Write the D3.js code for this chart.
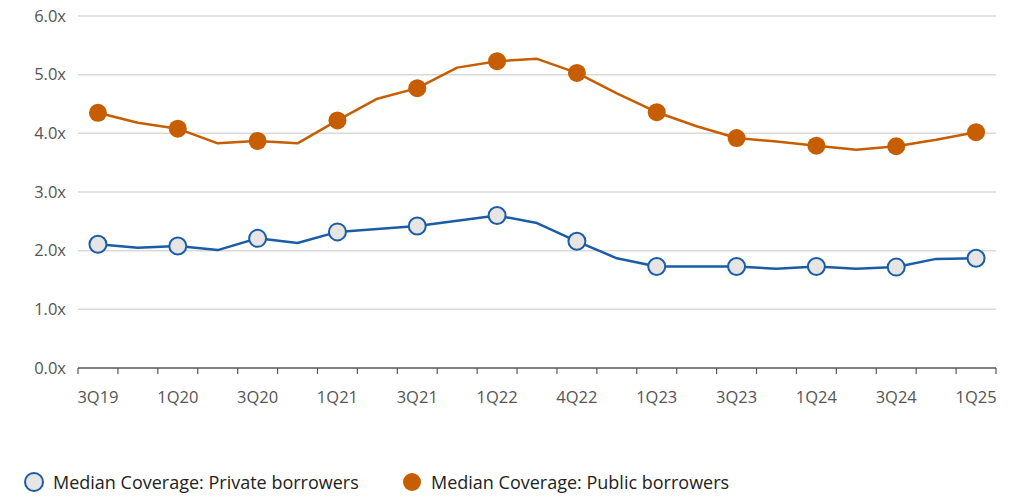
<!DOCTYPE html>
<html>
<head>
<meta charset="utf-8">
<script src="https://cdn.jsdelivr.net/npm/d3@7"></script>
<style>
  html, body { margin: 0; padding: 0; background: #fff; }
  svg { display: block; font-family: "Open Sans", "Noto Sans", sans-serif; }
</style>
</head>
<body>
<svg id="chart" width="1022" height="497"></svg>
<script>
// Quarterly periods (one point per quarter)
const quarters = ["3Q19","4Q19","1Q20","2Q20","3Q20","4Q20","1Q21","2Q21","3Q21","4Q21",
                  "1Q22","2Q22","3Q22","4Q22","1Q23","2Q23","3Q23","4Q23","1Q24","2Q24",
                  "3Q24","4Q24","1Q25"];
// Axis labels shown under every other quarter
const tickLabels = ["3Q19","","1Q20","","3Q20","","1Q21","","3Q21","","1Q22","","4Q22","",
                    "1Q23","","3Q23","","1Q24","","3Q24","","1Q25"];
// Median interest coverage (x)
const privateCoverage = [2.11,2.05,2.08,2.01,2.21,2.13,2.32,2.37,2.42,2.51,2.60,2.47,2.16,
                         1.87,1.73,1.73,1.73,1.69,1.73,1.69,1.72,1.86,1.87];
const publicCoverage  = [4.35,4.18,4.08,3.83,3.87,3.83,4.22,4.59,4.77,5.12,5.23,5.27,5.03,
                         4.68,4.36,4.12,3.92,3.86,3.79,3.72,3.78,3.89,4.02];
const yTicks = [0,1,2,3,4,5,6];
const seriesNames = ["Median Coverage: Private borrowers", "Median Coverage: Public borrowers"];

const orange = "#c65e00";
const blue = "#1a5ca6";
const markerFill = "#e6e5e3";

const svg = d3.select("#chart");
const plotLeft = 78, plotRight = 996, plotTop = 16, plotBottom = 368;

const x = d3.scaleBand().domain(quarters).range([plotLeft, plotRight]).padding(0);
const cx = q => x(q) + x.bandwidth() / 2;
const y = d3.scaleLinear().domain([0, 6]).range([plotBottom, plotTop]);

// Horizontal gridlines
svg.append("g")
  .selectAll("line")
  .data(yTicks.filter(t => t > 0))
  .join("line")
  .attr("x1", plotLeft).attr("x2", plotRight)
  .attr("y1", d => y(d)).attr("y2", d => y(d))
  .attr("stroke", "#d9d9d9").attr("stroke-width", 1.5);

// Y axis labels
const yAxis = svg.append("g")
  .attr("transform", `translate(${plotLeft},0)`)
  .call(d3.axisLeft(y).tickValues(yTicks).tickFormat(d => d3.format(".1f")(d) + "x").tickSize(0).tickPadding(12));
yAxis.select(".domain").remove();
yAxis.selectAll("text").attr("font-size", 16.5).attr("fill", "#555").attr("font-family", "Open Sans, sans-serif");

// X axis with ticks at quarter boundaries
const xAxisG = svg.append("g").attr("transform", `translate(0,${plotBottom})`);
xAxisG.append("line")
  .attr("x1", plotLeft).attr("x2", plotRight)
  .attr("stroke", "#555").attr("stroke-width", 1.5);
const boundaries = quarters.map(q => x(q)).concat([plotRight]);
xAxisG.selectAll("line.tick")
  .data(boundaries)
  .join("line").attr("class", "tick")
  .attr("x1", d => d).attr("x2", d => d)
  .attr("y1", 0).attr("y2", 6)
  .attr("stroke", "#555").attr("stroke-width", 1.2);
xAxisG.selectAll("text")
  .data(quarters.map((q, i) => ({ q, label: tickLabels[i] })).filter(d => d.label))
  .join("text")
  .attr("x", d => cx(d.q))
  .attr("y", 35)
  .attr("text-anchor", "middle")
  .attr("font-size", 16.5)
  .attr("fill", "#555")
  .text(d => d.label);

const line = d3.line().x((d, i) => cx(quarters[i])).y(d => y(d));

// Public borrowers
svg.append("path")
  .datum(publicCoverage)
  .attr("d", line)
  .attr("fill", "none").attr("stroke", orange).attr("stroke-width", 2.5)
  .attr("stroke-linejoin", "round");
svg.append("g").selectAll("circle")
  .data(publicCoverage.map((v, i) => ({ v, i })).filter(d => d.i % 2 === 0))
  .join("circle")
  .attr("cx", d => cx(quarters[d.i])).attr("cy", d => y(d.v))
  .attr("r", 9).attr("fill", orange);

// Private borrowers
svg.append("path")
  .datum(privateCoverage)
  .attr("d", line)
  .attr("fill", "none").attr("stroke", blue).attr("stroke-width", 2.5)
  .attr("stroke-linejoin", "round");
svg.append("g").selectAll("circle")
  .data(privateCoverage.map((v, i) => ({ v, i })).filter(d => d.i % 2 === 0))
  .join("circle")
  .attr("cx", d => cx(quarters[d.i])).attr("cy", d => y(d.v))
  .attr("r", 8.5).attr("fill", markerFill).attr("stroke", blue).attr("stroke-width", 2);

// Legend
const legend = svg.append("g").attr("transform", "translate(0,482)");
const items = [
  { name: seriesNames[0], x: 34, fill: markerFill, stroke: blue },
  { name: seriesNames[1], x: 412, fill: orange, stroke: "none" }
];
items.forEach(it => {
  legend.append("circle").attr("cx", it.x).attr("cy", 0).attr("r", 9)
    .attr("fill", it.fill).attr("stroke", it.stroke).attr("stroke-width", 2);
  legend.append("text").attr("x", it.x + 19).attr("y", 6.5)
    .attr("font-size", 18).attr("fill", "#222")
    .text(it.name);
});
</script>
</body>
</html>
